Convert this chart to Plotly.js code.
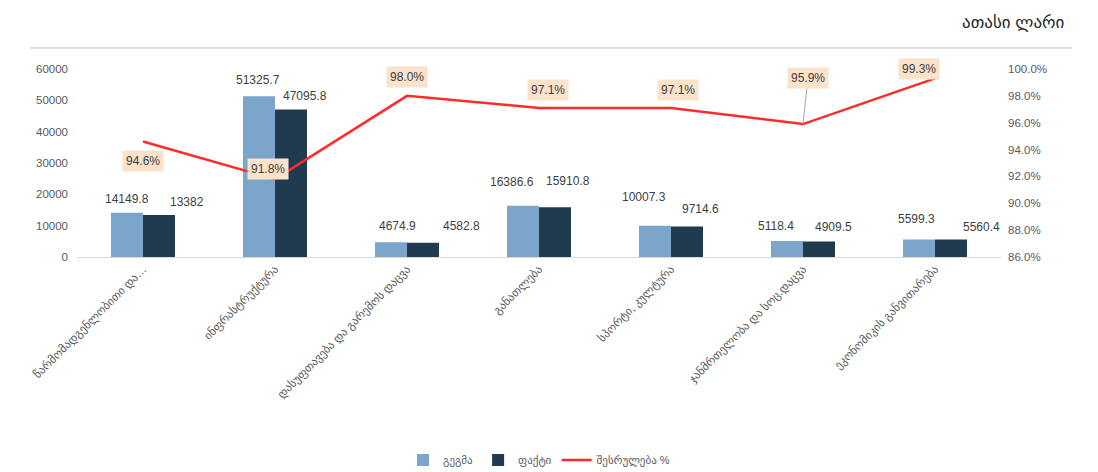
<!DOCTYPE html>
<html><head><meta charset="utf-8">
<script src="https://cdn.plot.ly/plotly-3.0.1.min.js"></script>
<style>body{margin:0;background:#fff}#chart{width:1098px;height:472px}</style>
</head><body><div id="chart"></div>
<script>
const categories = ["წარმომადგენლობითი და…","ინფრასტრუქტურა","დასუფთავება და გარემოს დაცვა","განათლება","სპორტი, კულტურა","ჯანმრთელობა და სოც.დაცვა","ეკონომიკის განვითარება"];
const planValues = [14149.8, 51325.7, 4674.9, 16386.6, 10007.3, 5118.4, 5599.3];
const factValues = [13382, 47095.8, 4582.8, 15910.8, 9714.6, 4909.5, 5560.4];
const pctValues = [94.6, 91.8, 98.0, 97.1, 97.1, 95.9, 99.3];
const seriesNames = ["გეგმა", "ფაქტი", "შესრულება %"];
const unitTitle = "ათასი ლარი";

// label placement (pixels)
const planShift = [[-16,14],[-17,16],[-10,16],[-27,24],[-27,29],[-27,15],[-19,20]];
const factShift = [[44,13],[30,13],[54,17],[29,26],[29,18],[30,15],[46,13]];
const pctShift = [[0,-19,0],[-7,10,0],[0,19,0],[9,18,0],[7,18,0],[5,-46,1],[-16,-9,1]];

const idx = categories.map((c,i)=>i);
const font = "Liberation Sans, DejaVu Sans, sans-serif";
const anns = [];
idx.forEach(i=>{
  anns.push({x:i, y:planValues[i], xref:'x', yref:'y', text:String(planValues[i]), showarrow:false,
    xshift:planShift[i][0], yshift:planShift[i][1], font:{size:12,color:'#404040',family:font}});
  anns.push({x:i, y:factValues[i], xref:'x', yref:'y', text:String(factValues[i]), showarrow:false,
    xshift:factShift[i][0], yshift:factShift[i][1], font:{size:12,color:'#404040',family:font}});
  const s = pctShift[i];
  const a = {x:i, y:pctValues[i], xref:'x', yref:'y2', text:pctValues[i].toFixed(1)+'%',
    bgcolor:'#fbe2cb', borderpad:3, font:{size:12,color:'#404040',family:font}};
  if (s[2]) { Object.assign(a,{showarrow:true, arrowhead:0, arrowwidth:1, arrowcolor:'#a6a6a6', ax:s[0], ay:s[1]}); }
  else { Object.assign(a,{showarrow:false, xshift:s[0], yshift:s[1]}); }
  anns.push(a);
});
anns.push({xref:'paper', yref:'paper', x:1.013, y:1.25, xanchor:'center', yanchor:'middle', text:unitTitle, showarrow:false,
  font:{size:17,color:'#262626',family:font}});

const traces = [
  {type:'bar', name:seriesNames[0], x:idx, y:planValues, marker:{color:'#7ba5ca'}},
  {type:'bar', name:seriesNames[1], x:idx, y:factValues, marker:{color:'#203a50'}},
  {type:'scatter', mode:'lines', name:seriesNames[2], x:idx, y:pctValues, yaxis:'y2',
    line:{color:'#ff2a2a', width:2.5}}
];
const layout = {
  width:1098, height:472,
  margin:{l:77, r:97, t:69, b:215, autoexpand:false},
  paper_bgcolor:'#fff', plot_bgcolor:'#fff',
  barmode:'group', bargap:0.515, bargroupgap:0,
  font:{family:font, color:'#595959', size:12},
  xaxis:{tickmode:'array', tickvals:idx, ticktext:categories, range:[-0.5,6.5], automargin:false,
    tickangle:-45, showline:true, linecolor:'#d9d9d9', linewidth:1, showgrid:false, zeroline:false,
    ticks:'', tickfont:{size:11.5,color:'#595959'}},
  yaxis:{range:[0,60000], dtick:10000, tickformat:'d', showgrid:false, zeroline:false, showline:false, automargin:false,
    tickfont:{size:11.5,color:'#595959'}, ticklabelstandoff:8},
  yaxis2:{overlaying:'y', side:'right', range:[86,100], dtick:2, ticksuffix:'%', tickformat:'.1f', automargin:false,
    showgrid:false, zeroline:false, showline:false, tickfont:{size:11.5,color:'#595959'}, ticklabelstandoff:6},
  legend:{orientation:'h', x:0.5, xanchor:'center', y:-1.08, yanchor:'middle',
    font:{size:11,color:'#595959'}, traceorder:'normal'},
  annotations:anns,
  shapes:[{type:'line', xref:'paper', yref:'paper', x0:-0.051, x1:1.077, y0:1.112, y1:1.112,
    line:{color:'#bfbfbf', width:1}}]
};
Plotly.newPlot('chart', traces, layout, {staticPlot:true});
</script></body></html>
